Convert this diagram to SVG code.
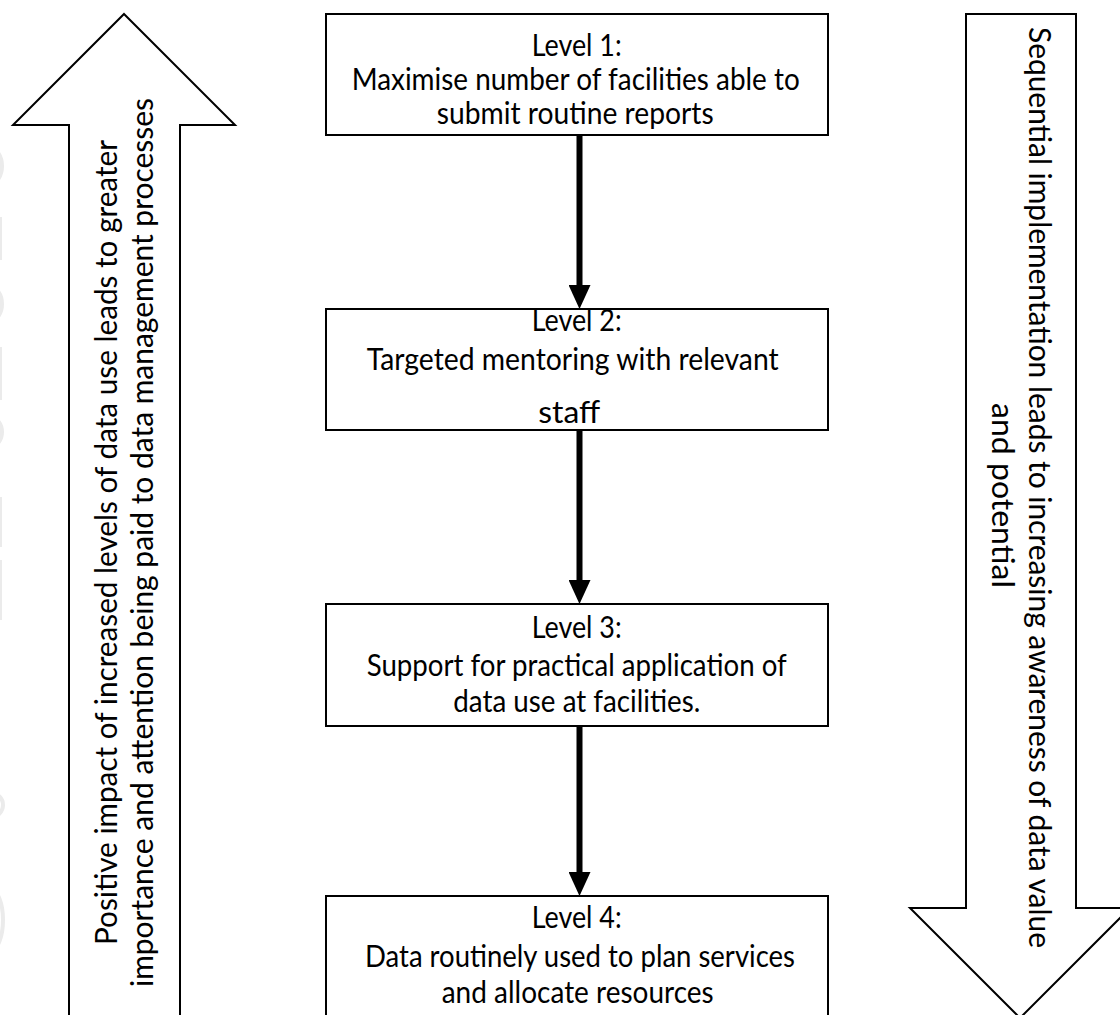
<svg xmlns="http://www.w3.org/2000/svg" width="1120" height="1015" viewBox="0 0 1120 1015">
<defs>
<style>
.bg{fill:#ffffff}
.box{fill:#ffffff;stroke:#000000;stroke-width:2}
.big{fill:#ffffff;stroke:#000000;stroke-width:2;stroke-linejoin:miter}
.t{font-family:Lato,"Open Sans","Liberation Sans",sans-serif;font-size:30px;fill:#000000}
.r{font-family:Lato,"Open Sans","Liberation Sans",sans-serif;font-size:30px;fill:#000000}
.conn{stroke:#000000;stroke-width:6;fill:none}
.ghost{fill:none;stroke:#ebebeb;stroke-width:4}
</style>
<marker id="ah" viewBox="0 0 24 22" markerWidth="24" markerHeight="22" refX="4" refY="11" orient="auto" markerUnits="userSpaceOnUse">
<path d="M0,0 L24,11 L0,22 z" fill="#000000"/>
</marker>
</defs>
<rect class="bg" x="0" y="0" width="1120" height="1015"/>
<g id="edge-marks">
<ellipse class="ghost" cx="-10" cy="166" rx="12" ry="18"/>
<line class="ghost" x1="0" y1="217" x2="0" y2="260"/>
<ellipse class="ghost" cx="-10" cy="304" rx="12" ry="17"/>
<line class="ghost" x1="0" y1="347" x2="0" y2="400"/>
<ellipse class="ghost" cx="-10" cy="432" rx="12" ry="15"/>
<line class="ghost" x1="0" y1="497" x2="0" y2="547"/>
<line class="ghost" x1="0" y1="560" x2="0" y2="620"/>
<ellipse class="ghost" cx="-9" cy="805" rx="12" ry="12"/>
<ellipse class="ghost" cx="-9" cy="920" rx="12" ry="30"/>
</g>
<g id="up-arrow">
<polygon class="big" points="124,14 235,125 180,125 180,1030 69,1030 69,125 13,125"/>
<text class="r" transform="translate(117,945) rotate(-90)" textLength="805" lengthAdjust="spacingAndGlyphs">Positive impact of increased levels of data use leads to greater</text>
<text class="r" transform="translate(153,987) rotate(-90)" textLength="889" lengthAdjust="spacingAndGlyphs">importance and attention being paid to data management processes</text>
</g>
<g id="down-arrow">
<polygon class="big" points="966,14 1076,14 1076,908 1130,908 1020,1018 910,908 966,908"/>
<text class="r" transform="translate(1029,27) rotate(90)" textLength="921" lengthAdjust="spacingAndGlyphs">Sequential implementation leads to increasing awareness of data value</text>
<text class="r" transform="translate(992,403) rotate(90)" textLength="185" lengthAdjust="spacingAndGlyphs">and potential</text>
</g>
<g id="connectors">
<line class="conn" x1="579.5" y1="135" x2="579.5" y2="289" marker-end="url(#ah)"/>
<line class="conn" x1="579.5" y1="430" x2="579.5" y2="584" marker-end="url(#ah)"/>
<line class="conn" x1="579.5" y1="726" x2="579.5" y2="876" marker-end="url(#ah)"/>
</g>
<g id="level1">
<rect class="box" x="326" y="14" width="502" height="121"/>
<text class="t" x="531.7" y="56" textLength="90" lengthAdjust="spacingAndGlyphs">Level 1:</text>
<text class="t" x="351.7" y="90" textLength="448" lengthAdjust="spacingAndGlyphs">Maximise number of facilities able to</text>
<text class="t" x="436.7" y="124" textLength="277" lengthAdjust="spacingAndGlyphs">submit routine reports</text>
</g>
<g id="level2">
<rect class="box" x="326" y="309" width="502" height="121"/>
<text class="t" x="531.7" y="331" textLength="90" lengthAdjust="spacingAndGlyphs">Level 2:</text>
<text class="t" x="366.7" y="370" textLength="412" lengthAdjust="spacingAndGlyphs">Targeted mentoring with relevant</text>
<text class="t" x="538.3" y="423" textLength="62" lengthAdjust="spacingAndGlyphs">staff</text>
</g>
<g id="level3">
<rect class="box" x="326" y="604" width="502" height="122"/>
<text class="t" x="531.7" y="638" textLength="90" lengthAdjust="spacingAndGlyphs">Level 3:</text>
<text class="t" x="366.7" y="676" textLength="420" lengthAdjust="spacingAndGlyphs">Support for practical application of</text>
<text class="t" x="453.3" y="711.5" textLength="247" lengthAdjust="spacingAndGlyphs">data use at facilities.</text>
</g>
<g id="level4">
<rect class="box" x="326" y="896" width="502" height="150"/>
<text class="t" x="531.7" y="928.3" textLength="90" lengthAdjust="spacingAndGlyphs">Level 4:</text>
<text class="t" x="365" y="966.7" textLength="430" lengthAdjust="spacingAndGlyphs">Data routinely used to plan services</text>
<text class="t" x="441.7" y="1003.3" textLength="272" lengthAdjust="spacingAndGlyphs">and allocate resources</text>
</g>
</svg>
